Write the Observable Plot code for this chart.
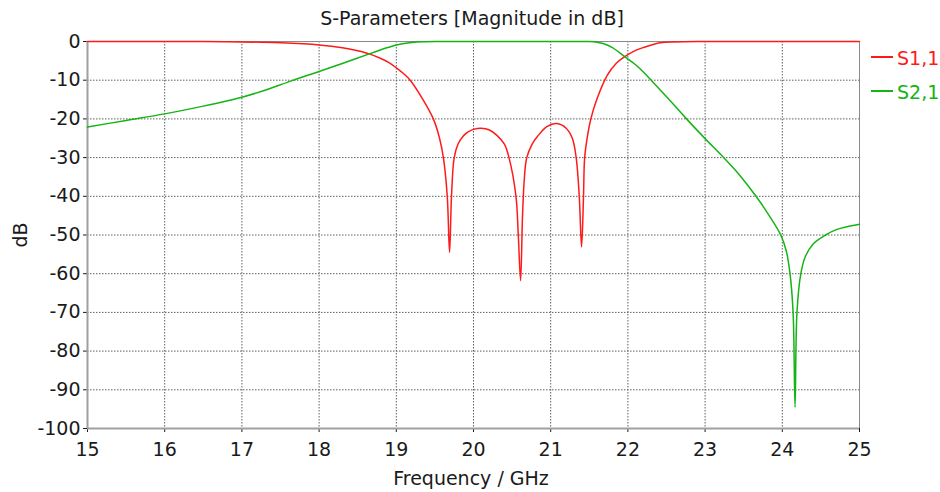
<!DOCTYPE html>
<html><head><meta charset="utf-8">
<script src="https://cdn.jsdelivr.net/npm/d3@7"></script>
<script src="https://cdn.jsdelivr.net/npm/@observablehq/plot@0.6"></script>
<style>
body{margin:0;background:#fff;font-family:"DejaVu Sans",sans-serif;}
#wrap{position:relative;width:940px;height:492px;overflow:hidden;}
#wrap svg{position:absolute;left:0;top:0;}
.t{position:absolute;white-space:nowrap;font-size:19px;line-height:19px;color:#1a1a1a;}
.lg{position:absolute;height:1.5px;width:22px;}
</style></head><body>
<div id="wrap"></div>
<script>
const titleText = "S-Parameters [Magnitude in dB]";
const xLabel = "Frequency / GHz";
const yLabel = "dB";
const seriesNames = ["S1,1", "S2,1"];
const seriesColors = ["#ff1a1a", "#14b414"];
const xTicks = [15,16,17,18,19,20,21,22,23,24,25];
const yTicks = [0,-10,-20,-30,-40,-50,-60,-70,-80,-90,-100];

const s11Freq = [15,16,16.5,17,17.5,18,18.3,18.5,18.65,18.8,18.9,19,19.1,19.18,19.33,19.48,19.56,19.61,19.66,19.69,19.715,19.75,19.8,19.86,19.92,20.0,20.1,20.2,20.3,20.4,20.46,20.55,20.58,20.61,20.635,20.66,20.69,20.76,20.83,20.95,21.08,21.2,21.28,21.33,21.37,21.4,21.425,21.44,21.48,21.52,21.6,21.73,21.85,21.95,22.1,22.21,22.42,22.6,23,24,25];
const s11dB  = [0,0,-0.03,-0.1,-0.35,-0.9,-1.6,-2.4,-3.2,-4.4,-5.4,-6.8,-8.4,-10,-14.5,-20,-25,-30,-40,-54.5,-40,-30,-26.5,-24.6,-23.5,-22.7,-22.4,-22.8,-24.2,-26.5,-30,-40,-50,-61.8,-45,-35,-30,-26.5,-24.5,-22,-21.2,-22.4,-25,-30,-40,-53.1,-40,-30,-24,-20,-14.8,-8.8,-5.6,-4.05,-2.3,-1.5,-0.35,-0.1,0,0,0];

const s21Freq = [15,15.5,16,16.5,17,17.3,17.65,18,18.3,18.65,18.9,19,19.1,19.2,19.35,19.5,20,21,21.5,21.6,21.69,21.8,21.95,22.1,22.2,22.31,22.51,22.75,23.0,23.24,23.45,23.66,23.83,23.98,24.05,24.1,24.14,24.165,24.19,24.24,24.3,24.4,24.56,24.7,24.85,25];
const s21dB  = [-22.1,-20.4,-18.7,-16.7,-14.4,-12.6,-10.1,-7.75,-5.7,-3.2,-1.5,-0.9,-0.5,-0.25,-0.08,-0.02,0,0,-0.02,-0.2,-0.6,-1.6,-3.8,-6.0,-7.9,-10.2,-14.5,-19.8,-25.1,-30,-34.6,-40,-45,-50,-54,-60,-70,-94.5,-70,-60,-55.5,-52.3,-50,-48.6,-47.8,-47.2];

const rows = [
  ...s11Freq.map((f, i) => ({series: seriesNames[0], f, db: s11dB[i]})),
  ...s21Freq.map((f, i) => ({series: seriesNames[1], f, db: s21dB[i]}))
];
const xGrid = xTicks.slice(1, -1);
const yGrid = yTicks.slice(1, -1);

const chart = Plot.plot({
  width: 940, height: 492,
  marginLeft: 87, marginRight: 81, marginTop: 41, marginBottom: 64,
  style: {fontFamily: "DejaVu Sans", fontSize: "19px", color: "#1a1a1a", background: "transparent", overflow: "visible"},
  x: {domain: [15, 25], ticks: xTicks, tickSize: 4, tickPadding: 10, label: null, tickFormat: d => String(d)},
  y: {domain: [-100, 0], ticks: yTicks, tickSize: 4, tickPadding: 3, label: null, tickFormat: d => String(d)},
  color: {domain: seriesNames, range: seriesColors},
  marks: [
    Plot.ruleX(xGrid, {x: d => d, stroke: "#606060", strokeDasharray: "1.5,1.5", strokeWidth: 1}),
    Plot.ruleY(yGrid, {y: d => d, stroke: "#606060", strokeDasharray: "1.5,1.5", strokeWidth: 1}),
    Plot.ruleY([yTicks[0]], {y: d => d, stroke: "#8a8a8a", strokeWidth: 1}),
    Plot.ruleX([xTicks[xTicks.length - 1]], {x: d => d, stroke: "#8a8a8a", strokeWidth: 1}),
    Plot.ruleX([xTicks[0]], {x: d => d, stroke: "#a0a0a0", strokeWidth: 2}),
    Plot.ruleY([yTicks[yTicks.length - 1]], {y: d => d, stroke: "#a0a0a0", strokeWidth: 2}),
    Plot.line(rows, {x: "f", y: "db", z: "series", stroke: "series", strokeWidth: 1.5, curve: "catmull-rom"})
  ]
});
const wrap = document.getElementById("wrap");
wrap.appendChild(chart);

function addText(txt, x, y, color, anchor, rot) {
  const d = document.createElement("div");
  d.className = "t";
  d.textContent = txt;
  d.style.left = x + "px";
  d.style.top = y + "px";
  if (color) d.style.color = color;
  const tx = anchor === "start" ? "0" : "-50%";
  d.style.transform = `translate(${tx},-50%)` + (rot ? ` rotate(${rot}deg)` : "");
  wrap.appendChild(d);
}
addText(titleText, 472, 18, null, "middle");
addText(xLabel, 471, 478, null, "middle");
addText(yLabel, 20, 235, null, "middle", -90);
seriesNames.forEach((name, i) => {
  const yy = 57 + i * 34;
  const l = document.createElement("div");
  l.className = "lg";
  l.style.left = "871px";
  l.style.top = (yy - 0.75) + "px";
  l.style.background = seriesColors[i];
  wrap.appendChild(l);
  addText(name, 897, yy + 1, seriesColors[i], "start");
});
</script>
</body></html>
